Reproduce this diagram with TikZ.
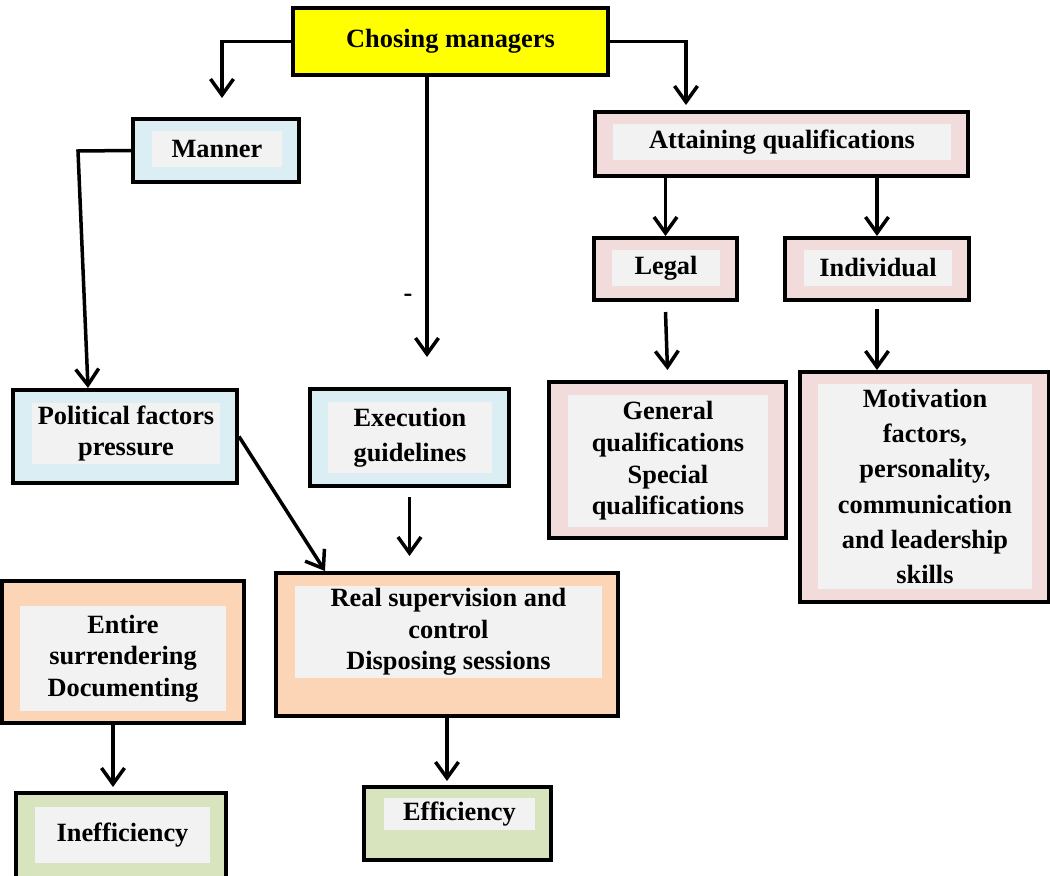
\documentclass[tikz,border=0pt]{standalone}
\usepackage{fontspec}
\setmainfont{Liberation Serif}
\usetikzlibrary{arrows.meta}
\definecolor{chooseyellow}{HTML}{FFFF00}
\definecolor{mannerblue}{HTML}{DBEEF3}
\definecolor{qualpink}{HTML}{F2DCDB}
\definecolor{controlpeach}{HTML}{FBD5B5}
\definecolor{resultgreen}{HTML}{D7E4BD}
\definecolor{innergray}{HTML}{F2F2F2}

\begin{document}
\begin{tikzpicture}[
    frame/.style={draw, line width=0.08cm, inner sep=0pt},
    pane/.style={fill=innergray, inner sep=0pt, align=center, font=\bfseries\fontsize{15}{18}\selectfont},
    conn/.style={line width=0.07cm, -{Straight Barb[length=0.32cm,width=0.46cm]}}]
  \useasboundingbox (0,0) rectangle (21,-17.52);
  % top of the tree
  \node[frame, fill=chooseyellow, minimum width=6.3cm, minimum height=1.34cm,
        font=\bfseries\fontsize{15}{18}\selectfont] (chose) at (9.01,-0.83) {Chosing managers};
  \node[frame, fill=mannerblue, minimum width=3.32cm, minimum height=1.26cm] (manner) at (4.32,-3.01) {};
  \node[pane, minimum width=2.6cm, minimum height=0.72cm] (mannerpane) at (4.34,-2.98) {Manner};
  \node[frame, fill=qualpink, minimum width=7.46cm, minimum height=1.28cm] (attain) at (15.63,-2.88) {};
  \node[pane, minimum width=6.76cm, minimum height=0.72cm] (attainpane) at (15.64,-2.84) {Attaining qualifications};
  \node[frame, fill=qualpink, minimum width=2.86cm, minimum height=1.24cm] (legal) at (13.31,-5.38) {};
  \node[pane, minimum width=2.16cm, minimum height=0.72cm] (legalpane) at (13.32,-5.36) {Legal};
  \node[frame, fill=qualpink, minimum width=3.68cm, minimum height=1.24cm] (indiv) at (17.54,-5.38) {};
  \node[pane, minimum width=2.96cm, minimum height=0.72cm] (indivpane) at (17.56,-5.36) {Individual};
  \node[font=\bfseries\fontsize{15}{18}\selectfont] (stray) at (8.16,-5.96) {-};
  % middle row
  \node[frame, fill=mannerblue, minimum width=4.48cm, minimum height=1.86cm] (polit) at (2.5,-8.73) {};
  \node[pane, minimum width=3.76cm, minimum height=1.22cm] (politpane) at (2.52,-8.67) {Political factors\\pressure};
  \node[frame, fill=mannerblue, minimum width=3.98cm, minimum height=1.94cm] (exec) at (8.19,-8.75) {};
  \node[pane, minimum width=3.28cm, minimum height=1.42cm,
        font=\bfseries\fontsize{15}{20}\selectfont] (execpane) at (8.2,-8.75) {Execution\\guidelines};
  \node[frame, fill=qualpink, minimum width=4.74cm, minimum height=3.12cm] (general) at (13.35,-9.2) {};
  \node[pane, minimum width=4.0cm, minimum height=2.64cm] (generalpane) at (13.36,-9.22)
    {General\\qualifications\\Special\\qualifications};
  \node[frame, fill=qualpink, minimum width=4.98cm, minimum height=4.6cm] (motiv) at (18.49,-9.74) {};
  \node[pane, minimum width=4.28cm, minimum height=4.1cm,
        font=\bfseries\fontsize{15}{20}\selectfont] (motivpane) at (18.5,-9.73)
    {Motivation\\factors,\\personality,\\communication\\and leadership\\skills};
  % lower rows
  \node[frame, fill=controlpeach, minimum width=4.84cm, minimum height=2.84cm] (entire) at (2.46,-13.04) {};
  \node[pane, minimum width=4.12cm, minimum height=2.1cm] (entirepane) at (2.46,-13.17)
    {Entire\\surrendering\\Documenting};
  \node[frame, fill=controlpeach, minimum width=6.84cm, minimum height=2.86cm] (real) at (8.94,-12.89) {};
  \node[pane, minimum width=6.14cm, minimum height=1.84cm] (realpane) at (8.97,-12.64)
    {Real supervision and\\control\\Disposing sessions};
  \node[frame, fill=resultgreen, minimum width=4.2cm, minimum height=2.14cm] (ineff) at (2.42,-16.93) {};
  \node[pane, minimum width=3.5cm, minimum height=1.12cm] (ineffpane) at (2.45,-16.7) {Inefficiency};
  \node[frame, fill=resultgreen, minimum width=3.74cm, minimum height=1.46cm] (eff) at (9.15,-16.47) {};
  \node[pane, minimum width=3.02cm, minimum height=0.64cm] (effpane) at (9.19,-16.28) {Efficiency};
  % free ends of the connectors
  \coordinate (mannertip) at (4.44,-1.96);
  \coordinate (attaintip) at (13.72,-2.1);
  \coordinate (exectip) at (8.54,-7.14);
  \coordinate (mannerbend) at (1.56,-3.02);
  \coordinate (polittip) at (1.76,-7.76);
  \coordinate (inefftip) at (2.26,-15.74);
  % connectors
  \draw[conn] (chose.west) -| (mannertip);
  \draw[conn] (chose.east) -| (attaintip);
  \draw[conn] (exectip |- chose.south) -- (exectip);
  \draw[conn] (manner.west) -- (mannerbend) -- (polittip);
  \draw[conn] (legal.north |- attain.south) -- (legal.north);
  \draw[conn] (indiv.north |- attain.south) -- (indiv.north);
  \draw[conn] ([yshift=-0.2cm]legal.south) -- ([yshift=0.2cm]general.north);
  \draw[conn] ([yshift=-0.14cm]indiv.south) -- (indiv.south |- motiv.north);
  \draw[conn] (polit.east) -- ([xshift=1.02cm]real.north west);
  \draw[conn] ([yshift=-0.18cm]exec.south) -- ([yshift=0.3cm]exec.south |- real.north);
  \draw[conn] (inefftip |- entire.south) -- (inefftip);
  \draw[conn] (real.south) -- ([yshift=0.08cm]real.south |- eff.north);
\end{tikzpicture}
\end{document}
